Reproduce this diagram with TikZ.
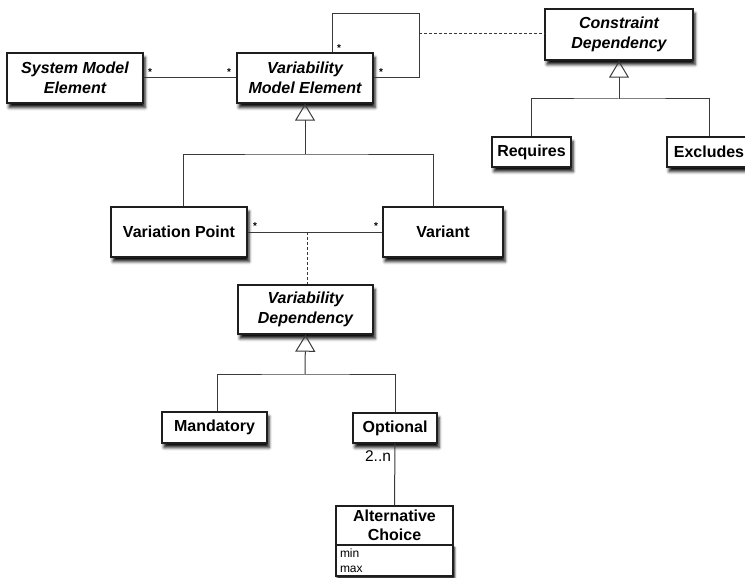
\documentclass[tikz,border=0pt]{standalone}
\usepackage{fontspec}
\setmainfont{Liberation Sans}
\usetikzlibrary{arrows.meta,shadows.blur}
\definecolor{edge}{HTML}{3A3A3A}
\definecolor{frame}{HTML}{1E1E1E}
\tikzset{
  cls/.style={draw=frame, line width=1.4pt, fill=white, align=center, inner sep=0pt,
    font=\fontsize{16}{19.5}\selectfont\bfseries,
    blur shadow={shadow xshift=2pt, shadow yshift=-4.5pt, shadow blur radius=3pt, shadow opacity=95}},
  abstract/.style={cls, font=\fontsize{16}{19.5}\selectfont\bfseries\itshape},
  assoc/.style={draw=edge, line width=1pt},
  dep/.style={assoc, dash pattern=on 3pt off 2pt},
  gen/.style={assoc, -{Triangle[open, length=17pt, width=20pt, line width=1pt]}},
  mult/.style={font=\fontsize{10}{10}\selectfont\bfseries, inner sep=0pt},
  card/.style={font=\fontsize{15.5}{15.5}\selectfont, inner sep=0pt},
}
\begin{document}
\begin{tikzpicture}[x=1pt,y=-1pt]
\useasboundingbox (0,0) rectangle (745,578);
\clip (0,0) rectangle (745,578);

% classes
\node[abstract, minimum width=136, minimum height=50] (sme) at (75,78) {System Model\\Element};
\node[abstract, minimum width=136, minimum height=50] (vme) at (305,78) {Variability\\Model Element};
\node[abstract, minimum width=148, minimum height=51] (cd) at (619,34.5) {Constraint\\Dependency};
\node[cls, minimum width=79, minimum height=30] (req) at (531.5,152) {Requires};
\node[cls, minimum width=84, minimum height=30] (exc) at (709,152) {Excludes};
\node[cls, minimum width=136, minimum height=50] (vp) at (179,232) {Variation Point};
\node[cls, minimum width=120, minimum height=50] (var) at (443,232) {Variant};
\node[abstract, minimum width=135, minimum height=49] (vd) at (305.5,309.5) {Variability\\Dependency};
\node[cls, minimum width=105, minimum height=31] (man) at (214.5,427.5) {Mandatory};
\node[cls, minimum width=84, minimum height=30] (opt) at (395,428) {Optional};
\node[cls, minimum width=117, minimum height=39, blur shadow={shadow opacity=0}] (altH) at (394.5,525.5) {Alternative\\Choice};
\node[cls, minimum width=117, minimum height=31, text width=109, inner xsep=4pt, align=left,
      font=\fontsize{12}{15.5}\selectfont,
      blur shadow={shadow xshift=1.5pt, shadow yshift=-2.5pt, shadow blur radius=2pt, shadow opacity=70}]
      (altA) at (394.5,560.5) {min\\max};
\draw[draw=frame, line width=1.4pt] (altH.north west) rectangle (altH.south east);

% associations
\draw[assoc] (sme.east) -- (vme.west);
\node[mult] (m1) at (150,72) {*};
\node[mult] (m2) at (229,72) {*};

\coordinate (loopTR) at (419,14);
\draw[assoc] ([xshift=27]vme.north) |- (loopTR) |- (vme.east);
\node[mult] (m3) at (339,48) {*};
\node[mult] (m4) at (381,72) {*};
\coordinate (loopMid) at (419,33.5);
\draw[dep] (loopMid) -- (loopMid -| cd.west);

\draw[assoc] (vp.east) -- (var.west);
\node[mult] (m5) at (255,226) {*};
\node[mult] (m6) at (376,226) {*};
\coordinate (vpm) at (307,232);
\draw[dep] (vpm) -- (vpm |- vd.north);

% generalizations
\coordinate (j1) at (305,154);
\draw[assoc] ([xshift=4]vp.north) |- (j1) -| ([xshift=-10]var.north);
\draw[gen] (j1) -- (vme.south);

\coordinate (j2) at (619,99);
\draw[assoc] (req.north) |- (j2) -| (exc.north);
\draw[gen] (j2) -- (cd.south);

\coordinate (j3) at (305,374);
\draw[assoc] ([xshift=2.5]man.north) |- (j3) -| (opt.north);
\draw[gen] (j3) -- (vd.south);

% choice
\draw[assoc] (opt.south) -- (altH.north);
\node[card] (c1) at (378,456) {2..n};
\end{tikzpicture}
\end{document}
